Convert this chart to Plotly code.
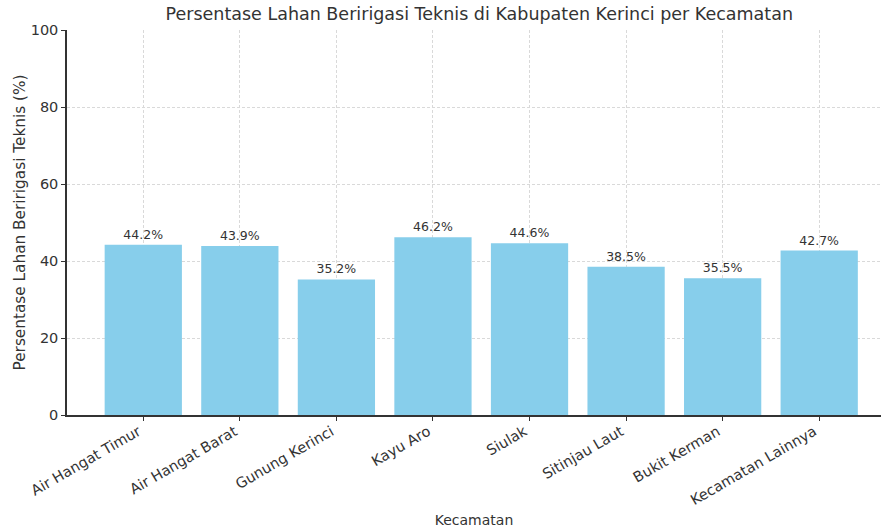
import plotly.graph_objects as go

categories = ["Air Hangat Timur", "Air Hangat Barat", "Gunung Kerinci", "Kayu Aro",
              "Siulak", "Sitinjau Laut", "Bukit Kerman", "Kecamatan Lainnya"]
values = [44.2, 43.9, 35.2, 46.2, 44.6, 38.5, 35.5, 42.7]
y_ticks = [0, 20, 40, 60, 80, 100]

font = "DejaVu Sans"
fig = go.Figure()
fig.add_trace(go.Bar(
    x=list(range(len(categories))), y=values, width=0.8,
    marker=dict(color="#87CEEB", line=dict(width=0)),
    text=[f"{v}%" for v in values], textposition="outside",
    textfont=dict(family=font, size=12.5, color="#333333"),
    cliponaxis=False,
))
fig.update_layout(
    width=881, height=528,
    margin=dict(l=67, r=0, t=30, b=113),
    plot_bgcolor="white", paper_bgcolor="white",
    showlegend=False,
    title=dict(text="Persentase Lahan Beririgasi Teknis di Kabupaten Kerinci per Kecamatan",
               x=0.544, xanchor="center", y=0.974, yanchor="middle",
               font=dict(family=font, size=17.5, color="#333333")),
    font=dict(family=font, color="#333333"),
)
fig.update_xaxes(
    tickmode="array", tickvals=list(range(len(categories))), ticktext=categories,
    range=[-0.79, 7.64], tickangle=-30, automargin=False,
    ticklabelshift=-5, ticklabelstandoff=-3,
    tickfont=dict(family=font, size=14.5, color="#333333"),
    showgrid=True, gridcolor="#d9d9d9", griddash="3px,2px", gridwidth=0.8,
    showline=True, linecolor="#333333", linewidth=1.5,
    ticks="outside", ticklen=4, tickcolor="#333333",
    title=dict(text="Kecamatan", font=dict(family=font, size=14, color="#333333"), standoff=40),
    zeroline=False,
)
fig.update_yaxes(
    range=[0, 100], tickvals=y_ticks, automargin=False,
    tickfont=dict(family=font, size=14.5, color="#333333"),
    showgrid=True, gridcolor="#d9d9d9", griddash="3px,2px", gridwidth=0.8,
    showline=True, linecolor="#333333", linewidth=1.5,
    ticks="outside", ticklen=4, tickcolor="#333333",
    title=dict(text="Persentase Lahan Beririgasi Teknis (%)",
               font=dict(family=font, size=15.3, color="#333333"), standoff=1),
    zeroline=False,
)
fig.write_html("out.html", config={"displayModeBar": False},
               post_script="document.body.style.margin='0';")
